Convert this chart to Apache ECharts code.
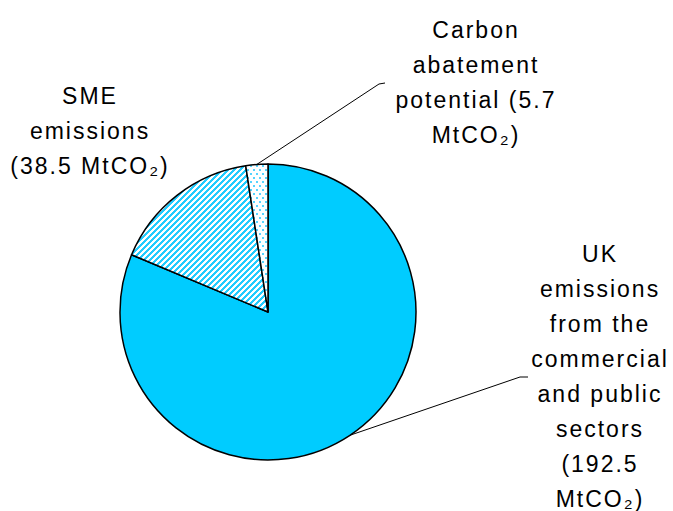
<!DOCTYPE html>
<html>
<head>
<meta charset="utf-8">
<script src="https://cdn.jsdelivr.net/npm/echarts@6/dist/echarts.min.js"></script>
<style>
  html, body { margin: 0; padding: 0; background: #fff; }
  #chart { width: 673px; height: 511px; }
  #chart text { letter-spacing: 2px; }
</style>
</head>
<body>
<div id="chart"></div>
<script>
// Slice names (with their line breaks) and values in MtCO₂
const categories = [
  'UK\nemissions\nfrom the\ncommercial\nand public\nsectors',
  'SME\nemissions',
  'Carbon\nabatement\npotential'
];
const values = [192.5, 38.5, 5.7];
const unit = 'MtCO₂';
// separators placed before "(value" and before the unit in each label
const valueBreaks = [['\n', '\n'], ['\n', ' '], [' ', '\n']];

const CYAN = '#00CCFF';

// diagonal hatching tile: cyan bands on white
function hatchTile() {
  const s = 6, c = document.createElement('canvas');
  c.width = s; c.height = s;
  const ctx = c.getContext('2d');
  const img = ctx.createImageData(s, s);
  for (let y = 0; y < s; y++) {
    for (let x = 0; x < s; x++) {
      const on = ((x + y) % s) < 3;
      const i = (y * s + x) * 4;
      img.data[i] = on ? 0x22 : 255;
      img.data[i + 1] = on ? 0xCC : 255;
      img.data[i + 2] = 255;
      img.data[i + 3] = 255;
    }
  }
  ctx.putImageData(img, 0, 0);
  return c;
}

// dotted tile: small cyan dots on white, staggered rows
function dotTile() {
  const w = 6, h = 8, c = document.createElement('canvas');
  c.width = w; c.height = h;
  const ctx = c.getContext('2d');
  ctx.fillStyle = '#fff';
  ctx.fillRect(0, 0, w, h);
  ctx.fillStyle = '#55D4FF';
  ctx.fillRect(1, 1, 2, 2);
  ctx.fillRect(4, 5, 2, 2);
  return c;
}

const fills = [
  CYAN,
  { image: hatchTile(), repeat: 'repeat', imageWidth: 6, imageHeight: 6 },
  { image: dotTile(), repeat: 'repeat', imageWidth: 6, imageHeight: 8 }
];

// label anchor positions and leader elbows
const labelPos = [
  { x: 600, y: 376, line: [[520, 377], [528, 377]] },
  { x: 90, y: 131, line: null },
  { x: 476, y: 82, line: [[379, 84], [385, 83]] }
];

const chart = echarts.init(document.getElementById('chart'), null, { renderer: 'svg' });

chart.setOption({
  backgroundColor: '#fff',
  animation: false,
  series: [{
    type: 'pie',
    center: [268, 312],
    radius: 148,
    startAngle: 90,
    clockwise: true,
    silent: true,
    data: categories.map((name, i) => ({
      name: name,
      value: values[i],
      itemStyle: { color: fills[i] },
      labelLine: { show: !!labelPos[i].line }
    })),
    itemStyle: { borderColor: '#000', borderWidth: 1.5 },
    label: {
      show: true,
      position: 'outside',
      color: '#000',
      fontFamily: '"Liberation Sans", Arial, sans-serif',
      fontSize: 23,
      lineHeight: 35,
      align: 'center',
      overflow: 'none',
      formatter: p => {
        const b = valueBreaks[p.dataIndex];
        return p.name + b[0] + '(' + p.value.toFixed(1) + b[1] + unit + ')';
      }
    },
    labelLine: {
      show: true,
      length: 20,
      length2: 10,
      lineStyle: { color: '#000', width: 1 }
    },
    labelLayout: params => {
      const lp = labelPos[params.dataIndex];
      const out = { x: lp.x, y: lp.y, align: 'center', verticalAlign: 'middle' };
      if (lp.line && params.labelLinePoints) {
        out.labelLinePoints = [params.labelLinePoints[0], lp.line[0], lp.line[1]];
      }
      return out;
    }
  }]
});
</script>
</body>
</html>
